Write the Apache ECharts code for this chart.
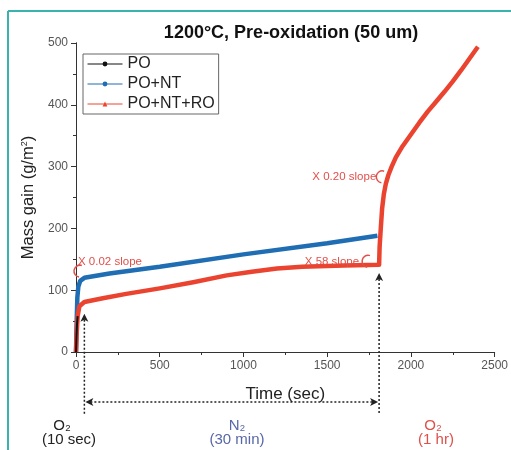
<!DOCTYPE html>
<html>
<head>
<meta charset="utf-8">
<script src="https://cdn.jsdelivr.net/npm/echarts@6/dist/echarts.min.js"></script>
<style>
  html, body { margin: 0; padding: 0; background: #fff; }
  #chart { width: 511px; height: 450px; }
</style>
</head>
<body>
<div id="chart"></div>
<script>
// series data: [time (sec), mass gain (g/m2)]
const poData = [[0, 0], [3, 25], [6, 45], [10, 58]];
const poNtData = [[0, 0], [4, 50], [8, 88], [14, 106], [25, 115], [50, 120], [200, 127],
  [500, 138], [1000, 158], [1500, 176], [1800, 188]];
const poNtRoData = [[0, 0], [4, 30], [10, 58], [20, 74], [50, 81], [160, 87], [300, 94],
  [500, 103], [700, 113], [900, 124], [1050, 130], [1200, 135], [1350, 138], [1600, 140],
  [1810, 141], [1813, 170], [1820, 200], [1828, 232], [1838, 255], [1850, 272],
  [1865, 286], [1885, 300], [1910, 315], [1950, 333], [2000, 352], [2050, 371],
  [2100, 389], [2150, 405], [2200, 421], [2250, 438], [2300, 456], [2350, 475], [2400, 494]];

const seriesNames = ["PO", "PO+NT", "PO+NT+RO"];
const seriesColors = ["#111111", "#1f6db3", "#ea4430"];
const xTicks = { min: 0, max: 2500, interval: 500 };
const yTicks = { min: 0, max: 500, interval: 100 };

// stage boundaries on time axis
const stageTimes = [50, 1810];

const FONT = "Liberation Sans, Arial, sans-serif";
const RED_TXT = "#e0504a";

const chartDom = document.getElementById("chart");
const myChart = echarts.init(chartDom);

const axisCommon = {
  axisLine: { lineStyle: { color: "#333", width: 1 } },
  axisLabel: { color: "#555", fontSize: 12, fontFamily: FONT, formatter: (v) => String(v) },
  splitLine: { show: false },
  minorTick: { show: true, splitNumber: 2, length: 3, lineStyle: { color: "#333" } },
  axisTick: { length: 5, lineStyle: { color: "#333" } },
};

let option = {
  animation: false,
  textStyle: { fontFamily: FONT },
  title: {
    text: "1200°C, Pre-oxidation (50 um)",
    left: 286,
    textAlign: "center",
    top: 19,
    textStyle: { fontSize: 18, fontWeight: "bold", color: "#111", fontFamily: FONT },
  },
  grid: { left: 76, right: 14, top: 43, bottom: 98 },
  legend: {
    orient: "vertical",
    left: 83,
    top: 54,
    itemWidth: 35,
    itemHeight: 6,
    itemGap: 4,
    padding: [2, 4, 2, 4],
    borderColor: "#666",
    borderWidth: 1,
    textStyle: { fontSize: 16, color: "#222", fontFamily: FONT },
    lineStyle: { width: 1 },
    data: seriesNames,
  },
  xAxis: [
    Object.assign({}, axisCommon, {
      type: "value",
      min: xTicks.min,
      max: xTicks.max,
      interval: xTicks.interval,
      name: "Time (sec)",
      nameLocation: "middle",
      nameGap: 34,
      nameTextStyle: { fontSize: 17, color: "#222", fontFamily: FONT },
    }),
    Object.assign({}, axisCommon, {
      type: "value",
      position: "top",
      min: xTicks.min,
      max: xTicks.max,
      interval: xTicks.interval,
      axisLabel: { show: false },
      axisTick: { inside: true, length: 5, lineStyle: { color: "#333" } },
    }),
  ],
  yAxis: [
    Object.assign({}, axisCommon, {
      type: "value",
      min: yTicks.min,
      max: yTicks.max,
      interval: yTicks.interval,
      name: "Mass gain (g/m{sup|2})",
      nameLocation: "middle",
      nameGap: 37,
      nameTextStyle: {
        fontSize: 16.5,
        color: "#222",
        fontFamily: FONT,
        rich: { sup: { fontSize: 9, verticalAlign: "top", padding: [0, 0, 8, 0] } },
      },
    }),
    Object.assign({}, axisCommon, {
      type: "value",
      position: "right",
      min: yTicks.min,
      max: yTicks.max,
      interval: yTicks.interval,
      axisLabel: { show: false },
      axisTick: { inside: true, length: 5, lineStyle: { color: "#333" } },
    }),
  ],
  series: [
    {
      name: seriesNames[0],
      type: "line",
      data: poData,
      symbol: "circle",
      symbolSize: 5,
      showSymbol: false,
      color: seriesColors[0],
      lineStyle: { width: 2 },
      z: 4,
    },
    {
      name: seriesNames[1],
      type: "line",
      data: poNtData,
      symbol: "circle",
      symbolSize: 4,
      showSymbol: false,
      color: seriesColors[1],
      lineStyle: { width: 4.5 },
      z: 2,
    },
    {
      name: seriesNames[2],
      type: "line",
      data: poNtRoData,
      symbol: "triangle",
      symbolSize: 5,
      showSymbol: false,
      color: seriesColors[2],
      lineStyle: { width: 4.5, join: "round" },
      z: 3,
    },
  ],
};

myChart.setOption(option);

// Annotations (arrows, slope labels, stage labels) placed from data coordinates
const px = (t, v) => myChart.convertToPixel({ xAxisIndex: 0, yAxisIndex: 0 }, [t, v]);
const dotted = { stroke: "#222", lineWidth: 1.5, lineDash: [2, 2] };

const [xa, yaTop] = px(stageTimes[0], 62);
const [xb, ybTop] = px(stageTimes[1], 128);
const yBottom = 415;
const yArrow = 402;

function arrowHead(x, y, dir) {
  // dir: "up", "left", "right"
  let pts;
  if (dir === "up") pts = [[x, y], [x - 4, y + 8], [x, y + 6], [x + 4, y + 8]];
  else if (dir === "left") pts = [[x, y], [x + 8, y - 4], [x + 6, y], [x + 8, y + 4]];
  else pts = [[x, y], [x - 8, y - 4], [x - 6, y], [x - 8, y + 4]];
  return { type: "polygon", shape: { points: pts }, style: { fill: "#222" }, z: 10 };
}

function slopeArc(x, y) {
  return {
    type: "arc",
    shape: { cx: x, cy: y, r: 6, startAngle: Math.PI * 0.55, endAngle: Math.PI * 1.6 },
    style: { stroke: RED_TXT, lineWidth: 1.5, fill: null },
    z: 10,
  };
}

function label(text, x, y, color, size, align) {
  return {
    type: "text",
    x: x,
    y: y,
    style: {
      text: text,
      fill: color,
      font: size + "px " + FONT,
      align: align || "left",
      verticalAlign: "middle",
    },
    z: 10,
  };
}

const [xs1, ys1] = px(0, 126);
const [xs2, ys2] = px(1810, 150);
const [xs3, ys3] = px(1835, 285);

myChart.setOption({
  graphic: [
    // frame lines of the figure panel
    { type: "line", shape: { x1: 8, y1: 11, x2: 511, y2: 11 }, style: { stroke: "#3bb3ad", lineWidth: 2 } },
    { type: "line", shape: { x1: 8, y1: 11, x2: 8, y2: 450 }, style: { stroke: "#3bb3ad", lineWidth: 2 } },
    // vertical dotted arrows at stage changes
    { type: "line", shape: { x1: xa, y1: yaTop + 6, x2: xa, y2: yBottom }, style: dotted, z: 10 },
    arrowHead(xa, yaTop, "up"),
    { type: "line", shape: { x1: xb, y1: ybTop + 6, x2: xb, y2: yBottom }, style: dotted, z: 10 },
    arrowHead(xb, ybTop, "up"),
    // horizontal double arrow for N2 stage
    { type: "line", shape: { x1: xa + 6, y1: yArrow, x2: xb - 6, y2: yArrow }, style: dotted, z: 10 },
    arrowHead(xa + 1, yArrow, "left"),
    arrowHead(xb - 1, yArrow, "right"),
    // slope annotations
    label("X 0.02 slope", xs1 + 2, ys1 - 12, RED_TXT, 11.5),
    slopeArc(xs1 + 4, ys1 - 3),
    label("X 58 slope", xs2 - 20, ys2 + 3, RED_TXT, 11.5, "right"),
    slopeArc(xs2 - 11, ys2 + 2),
    label("X 0.20 slope", xs3 - 7, ys3 + 1, RED_TXT, 11.5, "right"),
    slopeArc(xs3 - 1, ys3 + 1),
    // stage labels
    label("O₂", 62, 426, "#222", 15, "center"),
    label("(10 sec)", 69, 440, "#222", 15, "center"),
    label("N₂", 237, 426, "#5867a8", 15, "center"),
    label("(30 min)", 237, 440, "#5867a8", 15, "center"),
    label("O₂", 433, 426, "#e0504a", 15, "center"),
    label("(1 hr)", 436, 440, "#e0504a", 15, "center"),
  ],
});

window.addEventListener("resize", () => {
  myChart.resize();
});
</script>
</body>
</html>
